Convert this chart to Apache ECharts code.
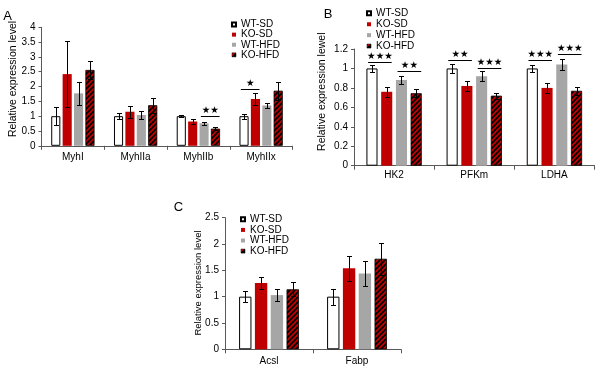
<!DOCTYPE html>
<html><head><meta charset="utf-8">
<script src="https://cdn.jsdelivr.net/npm/echarts@6/dist/echarts.min.js"></script>
<style>html,body{margin:0;padding:0;background:#fff}#c{width:600px;height:377px}</style>
</head><body><div id="c"></div>
<script>
// ---------- data ----------
const seriesNames = ['WT-SD', 'KO-SD', 'WT-HFD', 'KO-HFD'];

// Panel A
const catsA = ['MyhI', 'MyhIIa', 'MyhIIb', 'MyhIIx'];
const wtsdA  = [1.00, 1.00, 1.00, 1.00];
const kosdA  = [2.42, 1.15, 0.82, 1.58];
const wthfdA = [1.77, 1.04, 0.76, 1.36];
const kohfdA = [2.56, 1.37, 0.58, 1.86];
const errWtsdA  = [0.30, 0.10, 0.03, 0.08];
const errKosdA  = [1.12, 0.21, 0.07, 0.19];
const errWthfdA = [0.38, 0.13, 0.06, 0.10];
const errKohfdA = [0.29, 0.26, 0.05, 0.30];
const yTicksA = [0, 0.5, 1, 1.5, 2, 2.5, 3, 3.5, 4];
// significance: category, from bar, to bar, bracket height, label
const sigCatA = [2, 3];
const sigFromA = [2, 0];
const sigToA = [3, 1];
const sigYA = [1.01, 1.92];
const sigTextA = ['★★', '★'];

// Panel B
const catsB = ['HK2', 'PFKm', 'LDHA'];
const wtsdB  = [1.00, 1.00, 1.00];
const kosdB  = [0.76, 0.82, 0.80];
const wthfdB = [0.88, 0.92, 1.04];
const kohfdB = [0.745, 0.72, 0.77];
const errWtsdB  = [0.04, 0.05, 0.04];
const errKosdB  = [0.05, 0.05, 0.05];
const errWthfdB = [0.045, 0.05, 0.06];
const errKohfdB = [0.04, 0.03, 0.04];
const yTicksB = [0, 0.2, 0.4, 0.6, 0.8, 1, 1.2];
const sigCatB = [0, 0, 1, 1, 2, 2];
const sigFromB = [0, 2, 0, 2, 0, 2];
const sigToB = [1, 3, 1, 3, 1, 3];
const sigYB = [1.063, 0.974, 1.087, 1.008, 1.087, 1.145];
const sigTextB = ['★★★', '★★', '★★', '★★★', '★★★', '★★★'];

// Panel C
const catsC = ['Acsl', 'Fabp'];
const wtsdC  = [1.00, 1.00];
const kosdC  = [1.26, 1.54];
const wthfdC = [1.03, 1.44];
const kohfdC = [1.14, 1.72];
const errWtsdC  = [0.11, 0.15];
const errKosdC  = [0.12, 0.24];
const errWthfdC = [0.11, 0.23];
const errKohfdC = [0.13, 0.30];
const yTicksC = [0, 0.5, 1, 1.5, 2, 2.5];

// ---------- styling ----------
const FONT = '"Liberation Sans", Arial, sans-serif';
const RED = '#c00000', GRAY = '#a6a6a6', AXIS = '#595959';

function hatch() {
  const s = 5, cv = document.createElement('canvas');
  cv.width = s; cv.height = s;
  const g = cv.getContext('2d');
  g.fillStyle = RED; g.fillRect(0, 0, s, s);
  g.strokeStyle = '#000'; g.lineWidth = 1.7;
  g.beginPath();
  g.moveTo(0, s); g.lineTo(s, 0);
  g.moveTo(-1, 1); g.lineTo(1, -1);
  g.moveTo(s - 1, s + 1); g.lineTo(s + 1, s - 1);
  g.stroke();
  return cv;
}
const HATCH = { image: hatch(), repeat: 'repeat' };
const itemStyles = [
  { color: '#fff', borderColor: '#000', borderWidth: 1 },
  { color: RED },
  { color: GRAY },
  { color: HATCH, borderColor: '#000', borderWidth: 0.8 }
];

const panels = [
  { cats: catsA, vals: [wtsdA, kosdA, wthfdA, kohfdA], errs: [errWtsdA, errKosdA, errWthfdA, errKohfdA],
    ticks: yTicksA, sig: { cat: sigCatA, from: sigFromA, to: sigToA, y: sigYA, text: sigTextA },
    bcg: 0.31, bg: 0.25 },
  { cats: catsB, vals: [wtsdB, kosdB, wthfdB, kohfdB], errs: [errWtsdB, errKosdB, errWthfdB, errKohfdB],
    ticks: yTicksB, sig: { cat: sigCatB, from: sigFromB, to: sigToB, y: sigYB, text: sigTextB },
    bcg: 0.31, bg: 0.33 },
  { cats: catsC, vals: [wtsdC, kosdC, wthfdC, kohfdC], errs: [errWtsdC, errKosdC, errWthfdC, errKohfdC],
    ticks: yTicksC, sig: null, bcg: 0.32, bg: 0.28 }
];

const grids = [
  { left: 41.5, top: 27.3, width: 251, height: 118.5 },
  { left: 354, top: 49, width: 240.5, height: 116.7 },
  { left: 225, top: 217.7, width: 176, height: 131.6 }
];
const labelMargins = [6, 4.5, 7];
const fontSizes = [10, 10, 10];

function barPos(api, cat, idx, p) {
  const c = api.coord([cat, 0]);
  const band = api.size([1, 0])[0];
  const avail = band * (1 - p.bcg);
  const bw = avail / (4 + 3 * p.bg);
  const total = 4 * bw + 3 * bw * p.bg;
  return { x: c[0] - total / 2 + idx * bw * (1 + p.bg) + bw / 2, bw: bw };
}
const ls = { stroke: '#000', lineWidth: 1 };

const xAxis = [], yAxis = [], series = [];
panels.forEach((p, pi) => {
  xAxis.push({
    type: 'category', gridIndex: pi, data: p.cats,
    axisLine: { lineStyle: { color: AXIS, width: 1 } },
    axisTick: { show: true, length: 4, lineStyle: { color: AXIS } },
    axisLabel: { color: '#000', fontSize: fontSizes[pi], fontFamily: FONT, margin: labelMargins[pi] }
  });
  const t = p.ticks;
  yAxis.push({
    type: 'value', gridIndex: pi, min: t[0], max: t[t.length - 1], interval: t[1] - t[0],
    axisLine: { show: true, lineStyle: { color: AXIS, width: 1 } },
    axisTick: { show: true, length: 3, lineStyle: { color: AXIS } },
    splitLine: { show: false },
    axisLabel: { color: '#000', fontSize: fontSizes[pi], fontFamily: FONT, margin: 6 }
  });
  seriesNames.forEach((n, k) => {
    series.push({
      type: 'bar', name: n, xAxisIndex: pi, yAxisIndex: pi, data: p.vals[k],
      barGap: (p.bg * 100) + '%', barCategoryGap: (p.bcg * 100) + '%',
      itemStyle: itemStyles[k], silent: true
    });
  });
  const errData = [];
  p.vals.forEach((arr, k) => arr.forEach((v, i) => errData.push([i, k, v, p.errs[k][i]])));
  series.push({
    type: 'custom', name: 'err' + pi, xAxisIndex: pi, yAxisIndex: pi, z: 5, silent: true,
    encode: { x: 0, y: 2 }, data: errData,
    renderItem: function (params, api) {
      const cat = api.value(0), k = api.value(1), v = api.value(2), e = api.value(3);
      const x = Math.round(barPos(api, cat, k, p).x) + 0.5;
      const top = Math.round(api.coord([cat, v + e])[1]) + 0.5;
      const bot = Math.round(api.coord([cat, v - e])[1]) + 0.5;
      const h = 2.5;
      return { type: 'group', children: [
        { type: 'line', shape: { x1: x, y1: top, x2: x, y2: bot }, style: ls },
        { type: 'line', shape: { x1: x - h, y1: top, x2: x + h, y2: top }, style: ls },
        { type: 'line', shape: { x1: x - h, y1: bot, x2: x + h, y2: bot }, style: ls }
      ] };
    }
  });
  if (p.sig) {
    const s = p.sig;
    const sigData = s.cat.map((c, i) => [c, s.from[i], s.to[i], s.y[i]]);
    series.push({
      type: 'custom', name: 'sig' + pi, xAxisIndex: pi, yAxisIndex: pi, z: 6, silent: true,
      encode: { x: 0, y: 3 }, data: sigData,
      renderItem: function (params, api) {
        const cat = api.value(0), a = api.value(1), b = api.value(2), yv = api.value(3);
        const A = barPos(api, cat, a, p), B = barPos(api, cat, b, p);
        const x1 = A.x - 0.35 * A.bw, x2 = B.x + 0.45 * B.bw;
        const y = Math.round(api.coord([cat, yv])[1]) + 0.5;
        return { type: 'group', children: [
          { type: 'line', shape: { x1: x1, y1: y, x2: x2, y2: y }, style: ls },
          { type: 'text', x: (x1 + x2) / 2, y: y - 0.5,
            style: { text: s.text[params.dataIndex], fill: '#000', fontSize: 9.5,
              fontFamily: '"DejaVu Sans", sans-serif', align: 'center', verticalAlign: 'bottom' } }
        ] };
      }
    });
  }
});

const legendIconKOHFD = {
  type: 'linear', x: 0, y: 0, x2: 1, y2: 1,
  colorStops: [
    { offset: 0, color: RED }, { offset: 0.45, color: RED },
    { offset: 0.45, color: '#000' }, { offset: 1, color: '#000' }
  ]
};
const legendData = seriesNames.map((n, k) => k === 3
  ? { name: n, itemStyle: { color: legendIconKOHFD, borderColor: '#000', borderWidth: 0.5 } }
  : { name: n });
const legendBase = {
  data: legendData, orient: 'vertical', itemWidth: 4, itemHeight: 4, itemGap: 0, padding: 0,
  selectedMode: false, icon: 'rect'
};
const legend = [
  Object.assign({}, legendBase, { left: 231, top: 19.5, textStyle: { fontSize: 10, fontFamily: FONT, color: '#000', lineHeight: 10.1 } }),
  Object.assign({}, legendBase, { left: 366, top: 7.9, textStyle: { fontSize: 10, fontFamily: FONT, color: '#000', lineHeight: 10.9 } }),
  Object.assign({}, legendBase, { left: 240, top: 214, textStyle: { fontSize: 10, fontFamily: FONT, color: '#000', lineHeight: 10.6 } })
];

const titleStyle = (t, fs) => ({ text: t, fill: '#000', fontSize: fs, fontFamily: FONT, align: 'center', verticalAlign: 'middle' });
const graphic = [
  { type: 'text', x: 13, y: 79, rotation: Math.PI / 2, style: titleStyle('Relative expression level', 10.5) },
  { type: 'text', x: 322, y: 91.7, rotation: Math.PI / 2, style: titleStyle('Relative expression lewel', 10.5) },
  { type: 'text', x: 198.3, y: 283, rotation: Math.PI / 2, style: titleStyle('Relative expression level', 9.5) },
  { type: 'text', x: 7.5, y: 16.5, style: titleStyle('A', 13) },
  { type: 'text', x: 328, y: 14.5, style: titleStyle('B', 13) },
  { type: 'text', x: 178.5, y: 207.5, style: titleStyle('C', 13) }
];

const chart = echarts.init(document.getElementById('c'), null, { renderer: 'canvas' });
chart.setOption({
  animation: false, backgroundColor: '#fff',
  grid: grids, xAxis: xAxis, yAxis: yAxis, legend: legend, series: series, graphic: graphic
});
</script>
</body></html>
